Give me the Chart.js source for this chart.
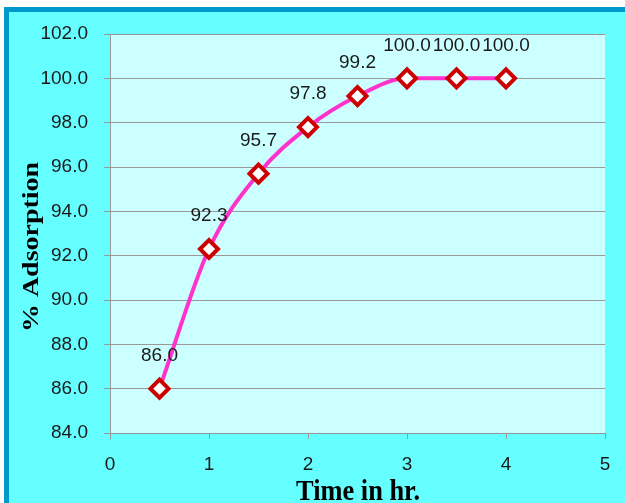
<!DOCTYPE html>
<html>
<head>
<meta charset="utf-8">
<script src="https://cdn.jsdelivr.net/npm/chart.js@4"></script>
<style>
  html, body { margin: 0; padding: 0; background: #fff; }
  canvas { display: block; }
</style>
</head>
<body>
<canvas id="adsChart" width="625" height="503"></canvas>
<script>
// data
const times = [0.5, 1, 1.5, 2, 2.5, 3, 3.5, 4];
const adsorption = [86.0, 92.3, 95.7, 97.8, 99.2, 100.0, 100.0, 100.0];
const xTitle = "Time in hr.";
const yTitle = "% Adsorption";

// frame + plot background
const backdrop = {
  id: "backdrop",
  beforeDraw(chart) {
    const ctx = chart.ctx, a = chart.chartArea;
    ctx.save();
    ctx.fillStyle = "#ffffff";
    ctx.fillRect(0, 0, chart.width, chart.height);
    ctx.fillStyle = "#0099cc";
    ctx.fillRect(4, 7, chart.width, chart.height);
    ctx.fillStyle = "#66ffff";
    ctx.fillRect(9, 12, chart.width, chart.height);
    ctx.fillStyle = "#ccffff";
    ctx.fillRect(a.left, a.top, a.right - a.left, a.bottom - a.top);
    ctx.restore();
  }
};

// value labels above points + axis titles
const labels = {
  id: "labels",
  afterDatasetsDraw(chart) {
    const ctx = chart.ctx;
    const meta = chart.getDatasetMeta(0);
    ctx.save();
    ctx.font = "19px 'Liberation Sans'";
    ctx.fillStyle = "#1a1a1a";
    ctx.textAlign = "center";
    ctx.textBaseline = "middle";
    meta.data.forEach((pt, i) => {
      ctx.fillText(adsorption[i].toFixed(1), pt.x, pt.y - 33);
    });

    ctx.fillStyle = "#000";
    ctx.textBaseline = "alphabetic";
    // x title
    ctx.font = "bold 29px 'Liberation Serif'";
    let w = ctx.measureText(xTitle).width;
    ctx.save();
    ctx.translate(358, 500);
    ctx.scale(124 / w, 1);
    ctx.fillText(xTitle, 0, 0);
    ctx.restore();
    // y title
    ctx.font = "bold 23px 'Liberation Serif'";
    w = ctx.measureText(yTitle).width;
    ctx.save();
    ctx.translate(38, 247);
    ctx.rotate(-Math.PI / 2);
    ctx.scale(170 / w, 1);
    ctx.fillText(yTitle, 0, 0);
    ctx.restore();
    ctx.restore();
  }
};

new Chart(document.getElementById("adsChart"), {
  type: "line",
  data: {
    datasets: [{
      data: times.map((t, i) => ({ x: t, y: adsorption[i] })),
      borderColor: "#ff33cc",
      borderWidth: 4,
      cubicInterpolationMode: "monotone",
      pointStyle: "rectRot",
      pointRadius: 9,
      pointBorderWidth: 4,
      pointBorderColor: "#cc0000",
      pointBackgroundColor: "#ffffff",
      fill: false
    }]
  },
  options: {
    responsive: false,
    animation: false,
    layout: { padding: { top: 34, right: 20, left: 0, bottom: 0 } },
    plugins: { legend: { display: false }, tooltip: { enabled: false } },
    scales: {
      x: {
        type: "linear",
        min: 0,
        max: 5,
        afterFit: s => { s.height = 70; },
        ticks: { stepSize: 1, padding: 14, color: "#1a1a1a", font: { family: "Liberation Sans", size: 19 } },
        grid: { drawOnChartArea: false, color: "#999999", tickLength: 6 },
        border: { color: "#999999", width: 1 }
      },
      y: {
        min: 84,
        max: 102,
        afterFit: s => { s.width = 110; },
        ticks: {
          stepSize: 2,
          padding: 16,
          color: "#1a1a1a",
          font: { family: "Liberation Sans", size: 19 },
          callback: v => v.toFixed(1)
        },
        grid: { color: "#999999", tickLength: 6 },
        border: { color: "#999999", width: 1 }
      }
    }
  },
  plugins: [backdrop, labels]
});
</script>
</body>
</html>
